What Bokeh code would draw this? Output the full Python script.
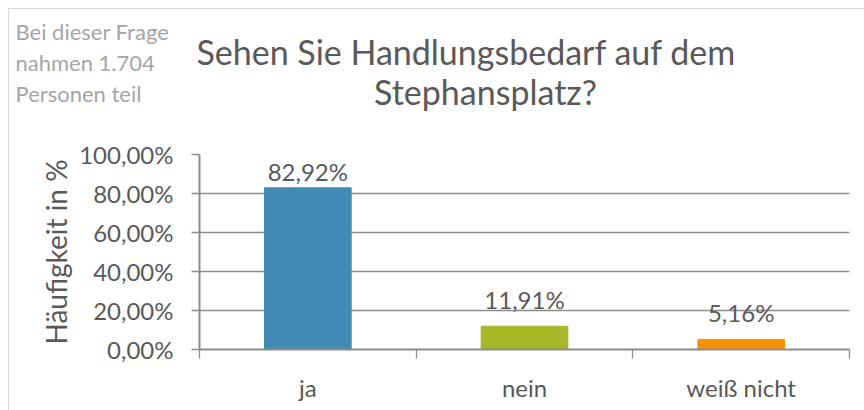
from bokeh.plotting import figure
from bokeh.layouts import column
from bokeh.models import ColumnDataSource, Label, FixedTicker, Range1d
from bokeh.core.properties import value
from bokeh.embed import file_html
from bokeh.resources import INLINE

# ---- data ----
categories = ["ja", "nein", "weiß nicht"]
percentages = [82.92, 11.91, 5.16]
value_labels = ["82,92%", "11,91%", "5,16%"]
bar_colors = ["#418AB3", "#A6B727", "#F69200"]
y_ticks = [0, 20, 40, 60, 80, 100]
y_tick_labels = ["0,00%", "20,00%", "40,00%", "60,00%", "80,00%", "100,00%"]
title_lines = ["Sehen Sie Handlungsbedarf auf dem", "Stephansplatz?"]
note_lines = ["Bei dieser Frage", "nahmen 1.704", "Personen teil"]
y_axis_title = "Häufigkeit in %"

# ---- style / layout ----
W = 855
HEAD_H, CHART_H = 110, 291
FONT = "Lato"
TXT = "#595959"
NOTE = "#A6A6A6"
GRID = "#8C8C8C"
label_gaps = [16, 27, 27]  # px between bar top and value label centre

# page-pixel positions of header texts
title_pos = [(466, 51), (485, 91)]   # centre x, centre y
note_pos = [(15, 31), (15, 62), (15, 93)]  # left x, centre y

# ---------- header: title and note ----------
ORIG = 9  # page px where the drawing starts (8px margin + 1px border)
head = figure(width=W, height=HEAD_H, output_backend="svg", toolbar_location=None,
              x_range=Range1d(ORIG, ORIG + W), y_range=Range1d(ORIG + HEAD_H, ORIG),
              x_axis_type=None, y_axis_type=None,
              min_border=0, min_border_left=0, min_border_right=0,
              min_border_top=0, min_border_bottom=0)
if "frame_align" in head.properties():
    head.frame_align = False
head.outline_line_color = None
head.xgrid.visible = False
head.ygrid.visible = False
head.background_fill_color = "white"
head.border_fill_color = "white"

for line, (lx, ly) in zip(title_lines, title_pos):
    head.add_layout(Label(x=lx, y=ly, text=line, text_align="center",
                          text_baseline="middle", text_font=FONT,
                          text_font_size="34px", text_color=TXT))
for line, (lx, ly) in zip(note_lines, note_pos):
    head.add_layout(Label(x=lx, y=ly, text=line, text_align="left",
                          text_baseline="middle", text_font=FONT,
                          text_font_size="22px", text_color=NOTE))

# ---------- chart ----------
centers = [i + 0.5 for i in range(len(categories))]
p = figure(width=W, height=CHART_H, output_backend="svg", toolbar_location=None,
           x_range=Range1d(0, len(categories)), y_range=Range1d(0, 100),
           min_border_left=190, min_border_right=15, min_border_top=35,
           min_border_bottom=61)
if "frame_align" in p.properties():
    p.frame_align = False
p.outline_line_color = None
p.background_fill_color = "white"
p.border_fill_color = "white"

src = ColumnDataSource(dict(x=centers, top=percentages, color=bar_colors,
                            lab=value_labels, yoff=[-g for g in label_gaps]))
p.vbar(x="x", top="top", width=0.4, color="color", source=src)
p.text(x="x", y="top", text="lab", y_offset="yoff", source=src,
       text_align="center", text_baseline="middle",
       text_font=value(FONT), text_font_size="24px", text_color=TXT)

# grid
p.xgrid.visible = False
p.ygrid.ticker = FixedTicker(ticks=y_ticks)
p.ygrid.grid_line_color = GRID
p.ygrid.grid_line_width = 1.3

# y axis
ya = p.yaxis[0]
ya.ticker = FixedTicker(ticks=y_ticks)
ya.major_label_overrides = {t: l for t, l in zip(y_ticks, y_tick_labels)}
ya.axis_line_color = GRID
ya.axis_line_width = 2
ya.major_tick_line_color = GRID
ya.major_tick_line_width = 1.3
ya.major_tick_in = 0
ya.major_tick_out = 8
ya.minor_tick_line_color = None
ya.major_label_standoff = 18
ya.major_label_text_font = FONT
ya.major_label_text_font_size = "24px"
ya.major_label_text_color = TXT
ya.axis_label = y_axis_title
ya.axis_label_text_font = FONT
ya.axis_label_text_font_size = "28px"
ya.axis_label_text_font_style = "normal"
ya.axis_label_text_color = TXT
ya.axis_label_standoff = 3

# x axis: labels at centres, tick marks at category boundaries
xa = p.xaxis[0]
xa.ticker = FixedTicker(ticks=centers, minor_ticks=list(range(len(categories) + 1)))
xa.major_label_overrides = {c: n for c, n in zip(centers, categories)}
xa.axis_line_color = GRID
xa.axis_line_width = 2
xa.major_tick_line_color = None
xa.major_tick_in = 0
xa.major_tick_out = 0
xa.minor_tick_line_color = GRID
xa.minor_tick_line_width = 1.3
xa.minor_tick_in = 0
xa.minor_tick_out = 9
xa.major_label_standoff = 14
xa.major_label_text_font = FONT
xa.major_label_text_font_size = "24px"
xa.major_label_text_color = TXT

page = column(head, p, spacing=0)
page.styles = {"margin-left": "8px", "margin-top": "8px",
               "border-top": "1px solid #D9D9D9", "border-left": "1px solid #D9D9D9"}

open("out.html", "w").write(file_html(page, INLINE))
